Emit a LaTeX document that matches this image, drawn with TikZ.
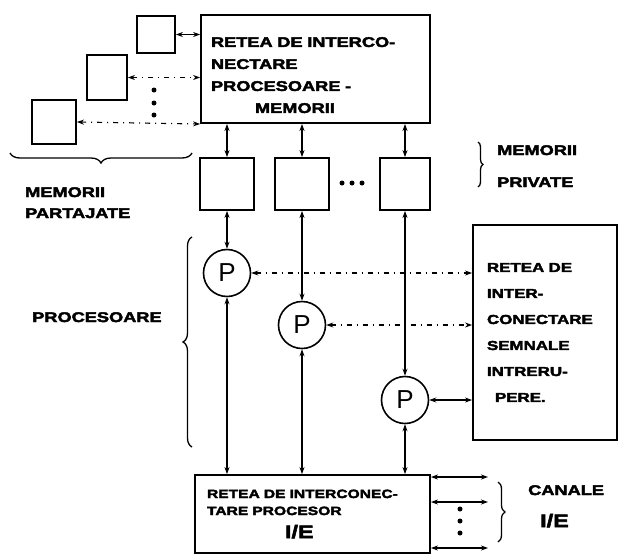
\documentclass[tikz,border=0pt]{standalone}
\usepackage{fontspec}
\usetikzlibrary{arrows.meta,decorations.pathreplacing}
\newfontfamily\blockfont[FakeStretch=1.3,FakeBold=3]{Liberation Sans}
\newfontfamily\pfont{Liberation Sans}
\tikzset{
  box/.style={draw,line width=1.8pt,inner sep=0pt},
  procnode/.style={draw,circle,line width=1.6pt,minimum size=47pt,inner sep=0pt,
    font=\pfont\fontsize{26}{26}\selectfont},
  link/.style={line width=1.2pt,{Stealth[length=7pt,width=5pt]}-{Stealth[length=7pt,width=5pt]}},
  dlink/.style={link,dash pattern=on 5pt off 5pt on 1pt off 5pt},
  lbl/.style 2 args={font=\blockfont\bfseries\fontsize{#1}{#2}\selectfont,align=left,inner sep=0pt},
  brc/.style={decorate,decoration={brace,amplitude=#1},line width=1.3pt},
}
\begin{document}
\begin{tikzpicture}[x=1pt,y=-1pt]
   \useasboundingbox (0,0) rectangle (619,555);
   % retea procesoare - memorii
   \node[box,lbl={14}{22},minimum width=229pt,minimum height=106pt,text width=209pt,text height=22pt,inner sep=10pt]
     (net) at (315.5,69) {RETEA DE INTERCO-\\NECTARE\\PROCESOARE -\\\hspace*{44pt}MEMORII};
   % memorii partajate
   \node[box,minimum width=38pt,minimum height=37pt] (m1) at (156,34.5) {};
   \node[box,minimum width=40pt,minimum height=45pt] (m2) at (107,77.5) {};
   \node[box,minimum width=44pt,minimum height=44pt] (m3) at (54,122) {};
   \draw[link] (m1.east) -- (m1.east -| net.west);
   \draw[dlink] (m2.east) -- (m2.east -| net.west);
   \draw[dlink] (m3.east) -- (net.south west);
   \foreach \y in {90,103,115} \fill (154,\y) circle (2.5pt);
   \draw[brc=10pt] (192,153) -- (10,153);
   \node[lbl={14}{21},anchor=base west] (lblshared) at (25,218) {MEMORII\\PARTAJATE};
   % retea intreruperi si retea I/E
   \node[box,lbl={13}{26},minimum width=144pt,minimum height=215pt,text width=116pt,inner sep=14pt]
     (intr) at (545,332.5) {RETEA DE\\INTER-\\CONECTARE\\SEMNALE\\INTRERU-\\\hspace*{8pt}PERE.};
   \node[box,lbl={12}{17},minimum width=235pt,minimum height=78pt,text width=211pt,inner sep=12pt]
     (io) at (312.5,514) {RETEA DE INTERCONEC-\\TARE PROCESOR\\[6pt]\hspace*{78pt}{\fontsize{18}{18}\selectfont I/E}};
   % memorii private si procesoare
   \foreach \i/\x/\w/\py in {1/227/54/273, 2/302/54/325, 3/405/50/400} {
     \node[box,minimum width=\w pt,minimum height=52pt] (pm\i) at (\x,184) {};
     \node[procnode] (p\i) at (\x,\py) {P};
     \draw[link] (net.south -| pm\i) -- (pm\i);
     \draw[link] (pm\i) -- (p\i);
     \draw[link] (p\i) -- (p\i |- io.north);
   }
   \foreach \x in {342,352,362} \fill (\x,183) circle (2.5pt);
   \draw[dlink] (p1) -- (p1 -| intr.west);
   \draw[dlink] (p2) -- (p2 -| intr.west);
   \draw[link] (p3) -- (p3 -| intr.west);
   \draw[brc=5pt] (478,142) -- (478,187);
   \node[lbl={14}{32},anchor=base west] (lblprivate) at (497,187) {MEMORII\\PRIVATE};
   \draw[brc=9pt] (192,447) -- (192,237);
   \node[lbl={14}{21},anchor=base west] (lblproc) at (32,322) {PROCESOARE};
   % canale I/E
   \coordinate (c1) at (488,477);
   \coordinate (c2) at (488,502);
   \coordinate (c3) at (488,548);
   \foreach \c in {c1,c2,c3} \draw[link] (io.east |- \c) -- (\c);
   \foreach \y in {509,521,533} \fill (460,\y) circle (2.5pt);
   \draw[brc=7pt] (498,482) -- (498,542);
   \node[lbl={14}{32},anchor=base west] (lblcanale) at (528,527) {CANALE\\\hspace*{12pt}{\fontsize{18}{18}\selectfont I/E}};
\end{tikzpicture}
\end{document}
